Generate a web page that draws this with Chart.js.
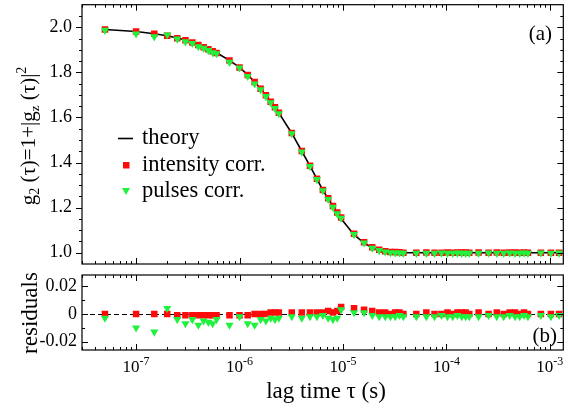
<!DOCTYPE html>
<html>
<head>
<meta charset="utf-8">
<script src="https://cdn.jsdelivr.net/npm/chart.js@4.4.1/dist/chart.umd.min.js"></script>
<style>
  html, body { margin: 0; padding: 0; background: #fff; }
  #wrap { position: relative; width: 568px; height: 410px; }
  canvas { position: absolute; left: 0; top: 0; }
</style>
</head>
<body>
<div id="wrap">
  <canvas id="g2chart" width="568" height="410"></canvas>
  <canvas id="reschart" width="568" height="410"></canvas>
</div>
<script>
// lag times (s)
const lagTimes = [
  5e-8, 1e-7, 1.5e-7, 2e-7, 2.5e-7, 3e-7, 3.5e-7, 4e-7, 4.5e-7, 5e-7, 5.5e-7, 6e-7,
  8e-7, 1e-6, 1.2e-6, 1.4e-6, 1.6e-6, 1.8e-6, 2e-6, 2.2e-6, 2.4e-6,
  3.2e-6, 4e-6, 4.8e-6, 5.6e-6, 6.4e-6, 7.2e-6, 8e-6, 8.8e-6, 9.6e-6,
  1.28e-5, 1.6e-5, 1.92e-5, 2.24e-5, 2.56e-5, 2.88e-5, 3.2e-5, 3.52e-5, 3.84e-5,
  5.12e-5, 6.4e-5, 7.68e-5, 8.96e-5, 1.024e-4, 1.152e-4, 1.28e-4, 1.408e-4, 1.536e-4, 1.664e-4,
  2.048e-4, 2.56e-4, 3.072e-4, 3.584e-4, 4.096e-4, 4.608e-4, 5.12e-4, 5.632e-4, 6.144e-4,
  8.192e-4, 1.024e-3, 1.2288e-3
];
const theory = [
  1.990, 1.981, 1.971, 1.962, 1.952, 1.943, 1.933, 1.922, 1.912, 1.903, 1.895, 1.887,
  1.853, 1.822, 1.789, 1.757, 1.727, 1.698, 1.669, 1.644, 1.620,
  1.530, 1.450, 1.385, 1.327, 1.277, 1.240, 1.206, 1.176, 1.151,
  1.080, 1.043, 1.022, 1.012, 1.006, 1.003, 1.002, 1.001, 1.000,
  1.000, 1.000, 1.000, 1.000, 1.000, 1.000, 1.000, 1.000, 1.000, 1.000,
  1.000, 1.000, 1.000, 1.000, 1.000, 1.000, 1.000, 1.000, 1.000,
  1.000, 1.000, 1.000
];
const intensityCorr = [
  1.990, 1.981, 1.971, 1.962, 1.951, 1.942, 1.932, 1.921, 1.911, 1.902, 1.894, 1.886,
  1.852, 1.821, 1.788, 1.757, 1.727, 1.698, 1.670, 1.645, 1.621,
  1.531, 1.451, 1.386, 1.328, 1.278, 1.242, 1.207, 1.178, 1.156,
  1.084, 1.046, 1.024, 1.013, 1.007, 1.003, 1.003, 1.002, 1.000,
  1.000, 1.001, 1.000, 1.000, 1.001, 1.000, 1.001, 1.001, 1.001, 1.000,
  1.001, 1.000, 1.001, 1.000, 1.001, 1.001, 1.000, 1.001, 1.000,
  1.000, 1.000, 1.000
];
const pulsesCorr = [
  1.987, 1.971, 1.958, 1.966, 1.948, 1.936, 1.929, 1.914, 1.907, 1.897, 1.888, 1.883,
  1.845, 1.820, 1.782, 1.749, 1.723, 1.693, 1.666, 1.640, 1.617,
  1.528, 1.447, 1.383, 1.325, 1.276, 1.237, 1.202, 1.173, 1.154,
  1.081, 1.044, 1.021, 1.010, 1.004, 1.001, 1.000, 1.000, 0.998,
  0.998, 0.998, 0.998, 0.999, 0.998, 0.998, 0.999, 0.998, 0.998, 0.998,
  0.998, 0.999, 0.998, 0.998, 0.999, 0.998, 0.998, 0.999, 0.998,
  0.999, 0.998, 0.999
];
const intensityRes = [
  0, 0, 0, 0, -0.001, -0.001, -0.001, -0.001, -0.001, -0.001, -0.001, -0.001,
  -0.001, -0.001, -0.001, 0, 0, 0, 0.001, 0.001, 0.001,
  0.001, 0.001, 0.001, 0.001, 0.001, 0.002, 0.001, 0.002, 0.005,
  0.004, 0.003, 0.002, 0.001, 0.001, 0, 0.001, 0.001, 0,
  0, 0.001, 0, 0, 0.001, 0, 0.001, 0.001, 0.001, 0,
  0.001, 0, 0.001, 0, 0.001, 0.001, 0, 0.001, 0,
  0, 0, 0
];
const pulsesRes = [
  -0.003, -0.010, -0.013, 0.004, -0.004, -0.007, -0.004, -0.008, -0.005, -0.006, -0.007, -0.004,
  -0.008, -0.002, -0.007, -0.008, -0.004, -0.005, -0.003, -0.004, -0.003,
  -0.002, -0.003, -0.002, -0.002, -0.001, -0.003, -0.004, -0.003, 0.003,
  0.001, 0.001, -0.001, -0.002, -0.002, -0.002, -0.002, -0.001, -0.002,
  -0.002, -0.002, -0.002, -0.001, -0.002, -0.002, -0.001, -0.002, -0.002, -0.002,
  -0.002, -0.001, -0.002, -0.002, -0.001, -0.002, -0.002, -0.001, -0.002,
  -0.001, -0.002, -0.001
];

const xDecades = [1e-7, 1e-6, 1e-5, 1e-4, 1e-3];
const xDecadeExp = ['-7', '-6', '-5', '-4', '-3'];
const g2Ticks = [1.0, 1.2, 1.4, 1.6, 1.8, 2.0];
const g2TickLabels = ['1.0', '1.2', '1.4', '1.6', '1.8', '2.0'];
const resTicks = [-0.02, 0, 0.02];
const resTickLabels = ['-0.02', '0', '0.02'];

const RED = '#ff0a0a';
const GREEN = '#1ef23c';
const SERIF = '"Liberation Serif", "Times New Roman", serif';
const X_MIN = 3.0e-8, X_MAX = 1.35e-3;

const pts = vals => lagTimes.map((t, i) => ({ x: t, y: vals[i] }));

function drawFrame(chart, cfg) {
  const { ctx, chartArea: a, scales: { x, y } } = chart;
  ctx.save();
  ctx.strokeStyle = '#000';
  ctx.lineWidth = 1.2;
  ctx.strokeRect(a.left, a.top, a.right - a.left, a.bottom - a.top);
  ctx.lineWidth = 1;
  ctx.beginPath();
  for (let e = -8; e <= -3; e++) {
    for (let k = 1; k <= 9; k++) {
      const v = k * Math.pow(10, e);
      if (v <= X_MIN || v >= X_MAX) continue;
      const px = Math.round(x.getPixelForValue(v)) + 0.5;
      const len = k === 1 ? 6 : 3;
      ctx.moveTo(px, a.bottom); ctx.lineTo(px, a.bottom - len);
      ctx.moveTo(px, a.top); ctx.lineTo(px, a.top + len);
    }
  }
  cfg.yTicks.forEach(t => {
    const py = Math.round(y.getPixelForValue(t.v)) + 0.5;
    const len = t.major ? 6 : 3;
    if (cfg.leftOut) { ctx.moveTo(a.left, py); ctx.lineTo(a.left - len, py); }
    else { ctx.moveTo(a.left, py); ctx.lineTo(a.left + len, py); }
    ctx.moveTo(a.right, py); ctx.lineTo(a.right - len, py);
  });
  ctx.stroke();

  ctx.fillStyle = '#000';
  ctx.font = '18px ' + SERIF;
  ctx.textAlign = 'right';
  ctx.textBaseline = 'middle';
  cfg.labels.forEach((lab, i) => {
    ctx.fillText(lab, cfg.labelX, y.getPixelForValue(cfg.labelVals[i]));
  });
  ctx.restore();
}

function drawRich(ctx, pieces, cx, cy) {
  let total = 0;
  pieces.forEach(p => { ctx.font = p.s + 'px ' + SERIF; p.w = ctx.measureText(p.t).width; total += p.w; });
  let xx = cx - total / 2;
  ctx.textAlign = 'left';
  ctx.textBaseline = 'alphabetic';
  pieces.forEach(p => {
    ctx.font = p.s + 'px ' + SERIF;
    ctx.fillText(p.t, xx, cy + (p.dy || 0));
    xx += p.w;
  });
}

const minorG2 = [];
for (let v = 1.0; v <= 2.06; v += 0.05) minorG2.push({ v: Math.round(v * 100) / 100, major: Math.round(v * 100) % 20 === 0 });
const minorRes = [-0.02, -0.01, 0, 0.01, 0.02].map(v => ({ v: v, major: v !== 0.01 && v !== -0.01 }));

const g2Plugin = {
  id: 'g2deco',
  afterDraw(chart) {
    drawFrame(chart, { yTicks: minorG2, leftOut: true, labels: g2TickLabels, labelVals: g2Ticks, labelX: 72 });
    const ctx = chart.ctx;
    ctx.save();
    ctx.fillStyle = '#000';
    // y title
    ctx.translate(35, 136);
    ctx.rotate(-Math.PI / 2);
    drawRich(ctx, [
      { t: 'g', s: 21 }, { t: '2', s: 14, dy: 4 },
      { t: ' (\u03c4)=1+|g', s: 21 }, { t: 'z', s: 13, dy: 4 },
      { t: ' (\u03c4)|', s: 21 }, { t: '2', s: 14, dy: -9 }
    ], 0, 0);
    ctx.restore();

    ctx.save();
    // legend
    ctx.strokeStyle = '#000';
    ctx.lineWidth = 1.6;
    ctx.beginPath(); ctx.moveTo(118, 138.5); ctx.lineTo(133, 138.5); ctx.stroke();
    ctx.fillStyle = RED;
    ctx.fillRect(123, 162, 6.5, 6.5);
    ctx.fillStyle = GREEN;
    ctx.beginPath(); ctx.moveTo(122, 188); ctx.lineTo(130, 188); ctx.lineTo(126, 195); ctx.closePath(); ctx.fill();
    ctx.fillStyle = '#000';
    ctx.font = '22.5px ' + SERIF;
    ctx.textAlign = 'left';
    ctx.textBaseline = 'middle';
    ctx.fillText('theory', 142, 138);
    ctx.fillText('intensity corr.', 142, 165);
    ctx.fillText('pulses corr.', 142, 191);
    ctx.font = '21px ' + SERIF;
    ctx.textAlign = 'right';
    ctx.fillText('(a)', 552, 34);
    ctx.restore();
  }
};

const resPlugin = {
  id: 'resdeco',
  beforeDatasetsDraw(chart) {
    const { ctx, chartArea: a, scales: { y } } = chart;
    const py = Math.round(y.getPixelForValue(0)) + 0.5;
    ctx.save();
    ctx.strokeStyle = '#000';
    ctx.lineWidth = 1;
    ctx.setLineDash([5, 3]);
    ctx.beginPath(); ctx.moveTo(a.left, py); ctx.lineTo(a.right, py); ctx.stroke();
    ctx.restore();
  },
  afterDraw(chart) {
    drawFrame(chart, { yTicks: minorRes, leftOut: false, labels: resTickLabels, labelVals: resTicks, labelX: 77 });
    const { ctx, scales: { x } } = chart;
    ctx.save();
    ctx.fillStyle = '#000';
    // x tick labels 10^n
    xDecades.forEach((d, i) => {
      const px = x.getPixelForValue(d);
      ctx.font = '17px ' + SERIF;
      const w1 = ctx.measureText('10').width;
      ctx.font = '12px ' + SERIF;
      const w2 = ctx.measureText(xDecadeExp[i]).width;
      const start = px - (w1 + w2) / 2;
      ctx.textAlign = 'left';
      ctx.textBaseline = 'alphabetic';
      ctx.font = '17px ' + SERIF;
      ctx.fillText('10', start, 372);
      ctx.font = '12px ' + SERIF;
      ctx.fillText(xDecadeExp[i], start + w1, 365);
    });
    ctx.font = '23px ' + SERIF;
    ctx.textAlign = 'center';
    ctx.fillText('lag time \u03c4 (s)', 326, 398);
    ctx.font = '21px ' + SERIF;
    ctx.textAlign = 'right';
    ctx.textBaseline = 'middle';
    ctx.fillText('(b)', 557, 336);
    ctx.translate(37, 313);
    ctx.rotate(-Math.PI / 2);
    ctx.font = '23px ' + SERIF;
    ctx.textAlign = 'center';
    ctx.textBaseline = 'alphabetic';
    ctx.fillText('residuals', 0, 0);
    ctx.restore();
  }
};

const baseOptions = (pad, ymin, ymax) => ({
  responsive: false,
  animation: false,
  events: [],
  layout: { padding: pad },
  plugins: { legend: { display: false }, tooltip: { enabled: false } },
  scales: {
    x: { type: 'logarithmic', min: X_MIN, max: X_MAX, display: false },
    y: { type: 'linear', min: ymin, max: ymax, display: false }
  }
});

const markerSets = (redVals, greenVals) => [
  {
    label: 'pulses corr.', data: pts(greenVals), order: 1,
    pointStyle: 'triangle', rotation: 180, pointRadius: 4.7,
    pointBackgroundColor: GREEN, pointBorderWidth: 0, showLine: false
  },
  {
    label: 'intensity corr.', data: pts(redVals), order: 2,
    pointStyle: 'rect', pointRadius: 4.6,
    pointBackgroundColor: RED, pointBorderWidth: 0, showLine: false
  }
];

new Chart(document.getElementById('g2chart'), {
  type: 'scatter',
  data: {
    datasets: [
      ...markerSets(intensityCorr, pulsesCorr),
      {
        label: 'theory', data: pts(theory), order: 3,
        showLine: true, borderColor: '#000', borderWidth: 1.6,
        pointRadius: 0, tension: 0
      }
    ]
  },
  options: baseOptions({ left: 82, right: 3, top: 3, bottom: 146 }, 0.95, 2.1),
  plugins: [g2Plugin]
});

new Chart(document.getElementById('reschart'), {
  type: 'scatter',
  data: { datasets: markerSets(intensityRes, pulsesRes) },
  options: baseOptions({ left: 82, right: 3, top: 275, bottom: 60 }, -0.026, 0.028),
  plugins: [resPlugin]
});
</script>
</body>
</html>
